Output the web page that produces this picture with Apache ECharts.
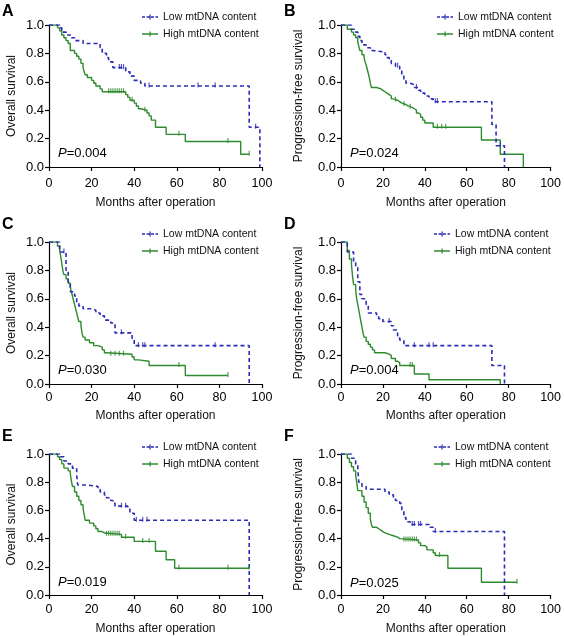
<!DOCTYPE html>
<html><head><meta charset="utf-8">
<script src="https://cdn.jsdelivr.net/npm/echarts@6/dist/echarts.min.js"></script>
<style>html,body{margin:0;padding:0;background:#fff}#c{width:564px;height:636px}</style>
</head><body><div id="c"></div>
<script>
// ---- Data (time in months, survival proportion) ----
const panelLetters = ['A','B','C','D','E','F'];
const yTitles = ['Overall survival','Progression-free survival','Overall survival','Progression-free survival','Overall survival','Progression-free survival'];
const pValues = ['0.004','0.024','0.030','0.004','0.019','0.025'];
const xTicks = [0,20,40,60,80,100];
const yTicks = [0,0.2,0.4,0.6,0.8,1.0];
const seriesNames = ['Low mtDNA content','High mtDNA content'];

const lowA = [[0,1],[5,0.98],[6,0.95],[8,0.93],[10,0.91],[12,0.89],[16,0.87],[24,0.84],[25,0.80],[27,0.77],[28,0.74],[30,0.70],[36,0.67],[38,0.64],[40,0.61],[43,0.59],[45,0.57],[94,0.28],[99,0]];
const highA = [[0,1],[4,0.98],[5,0.96],[6,0.93],[7,0.91],[8,0.89],[9,0.87],[10,0.82],[12,0.80],[13,0.78],[14,0.76],[15,0.73],[16,0.70],[16.5,0.67],[17,0.65],[18,0.63],[20,0.61],[21,0.59],[22,0.57],[24,0.55],[25,0.53],[36,0.51],[37,0.49],[38,0.47],[40,0.45],[41,0.43],[42,0.41],[43,0.40],[46,0.38],[47,0.36],[48,0.33],[50,0.28],[55,0.23],[64,0.18],[90,0.09],[94,0.09]];
const censLowA = [33,34,35,47,70,78,97];
const censHighA = [28,29,30,31,32,33,34,35,39,45,61,84,94];

const lowB = [[0,1],[5,0.97],[7,0.95],[8,0.92],[9,0.89],[10,0.86],[12,0.84],[14,0.82],[15,0.81],[21,0.79],[22,0.77],[23,0.75],[24,0.73],[26,0.71],[28,0.69],[29,0.65],[30,0.62],[31,0.59],[33,0.58],[35,0.56],[37,0.54],[38,0.52],[40,0.50],[42,0.48],[44,0.46],[72,0.30],[74,0.15],[78,0]];
const highB = [[0,1],[3,0.97],[5,0.95],[6,0.93],[7,0.91],[8,0.88],[8.5,0.85],[9,0.82],[10,0.79],[11,0.77],[11.5,0.74],[12,0.72],[12.5,0.69],[13,0.66],[13.5,0.63],[14,0.59],[14.5,0.56],[17,0.55],[19,0.54],[20,0.53],[21,0.52],[22,0.51],[23,0.50],[24,0.48],[25,0.47],[27,0.46],[28,0.45],[29,0.44],[31,0.43],[32,0.42],[34,0.41],[35,0.40],[36,0.38],[37,0.37],[38,0.35],[39,0.33],[40,0.31],[44,0.28],[67,0.19],[76,0.09],[87,0]];
const censLowB = [27,36,45,46,76];
const censHighB = [26,30,33,46,48,50];

const lowC = [[0,1],[5,0.93],[8,0.80],[9,0.72],[10,0.65],[12,0.62],[13,0.58],[14,0.55],[16,0.53],[20,0.52],[22,0.50],[24,0.48],[26,0.45],[29,0.43],[31,0.36],[39,0.32],[40,0.27],[94,0]];
const highC = [[0,1],[4,0.97],[5,0.94],[5.5,0.90],[6,0.85],[6.5,0.80],[7,0.77],[8,0.74],[9,0.71],[10,0.68],[10.5,0.65],[11,0.62],[11.5,0.59],[12,0.56],[12.5,0.53],[13,0.50],[13.5,0.47],[14,0.44],[15,0.41],[15.5,0.36],[16,0.33],[17,0.31],[19,0.29],[21,0.27],[23,0.26],[25,0.24],[26,0.22],[27,0.21],[39,0.19],[40,0.17],[42,0.16],[47,0.13],[64,0.06],[84,0.06]];
const censLowC = [7,34,42,44,45,78];
const censHighC = [29,31,33,35,61,84];

const lowD = [[0,1],[3,0.93],[6,0.86],[7,0.82],[8,0.72],[9,0.63],[10,0.60],[12,0.56],[13,0.50],[17,0.48],[18,0.46],[20,0.44],[24,0.41],[25,0.38],[27,0.34],[28,0.31],[30,0.27],[72,0.13],[78,0]];
const highD = [[0,1],[3,0.94],[4,0.88],[5,0.84],[5.5,0.76],[6,0.70],[7,0.66],[7.5,0.60],[8,0.56],[8.5,0.52],[9,0.48],[9.5,0.44],[10,0.40],[10.5,0.36],[11,0.33],[12,0.30],[13,0.28],[14,0.26],[15,0.24],[16,0.22],[21,0.21],[23,0.20],[24,0.18],[26,0.16],[27,0.15],[28,0.13],[35,0.07],[42,0.03],[76,0]];
const censLowD = [23,35,42,44];
const censHighD = [33,34];

const lowE = [[0,1],[5,0.98],[7,0.95],[9,0.93],[11,0.90],[13,0.85],[13.5,0.78],[18,0.77],[23,0.75],[24,0.73],[26,0.71],[27,0.69],[29,0.67],[30,0.65],[31,0.63],[37,0.61],[38,0.58],[40,0.53],[94,0]];
const highE = [[0,1],[4,0.98],[5,0.96],[6,0.93],[7,0.90],[9,0.88],[10,0.86],[10.5,0.81],[11,0.77],[12,0.73],[13,0.70],[14,0.67],[15,0.64],[16,0.61],[16.5,0.57],[17,0.53],[19,0.51],[21,0.49],[22,0.47],[23,0.45],[25,0.44],[26,0.43],[34,0.41],[40,0.38],[50,0.31],[55,0.25],[59,0.19],[94,0.19]];
const censLowE = [34,36,41,44,46];
const censHighE = [27,28,29,30,31,32,33,36,44,47,61,84,94];

const lowF = [[0,1],[5,0.97],[7,0.93],[8,0.90],[8.5,0.80],[10,0.77],[12,0.75],[21,0.73],[23,0.71],[25,0.69],[26,0.67],[28,0.65],[29,0.60],[30,0.55],[31,0.52],[33,0.50],[42,0.48],[44,0.45],[78,0]];
const highF = [[0,1],[3,0.97],[4,0.94],[5,0.91],[6,0.88],[7,0.85],[7.5,0.80],[8,0.74],[10,0.70],[11,0.66],[12,0.62],[13,0.58],[14,0.54],[14.5,0.50],[15,0.48],[17,0.47],[18,0.46],[19,0.45],[20,0.44],[21,0.43],[23,0.42],[25,0.41],[27,0.40],[28,0.39],[37,0.37],[38,0.35],[40,0.34],[41,0.32],[44,0.30],[45,0.28],[51,0.19],[67,0.09],[84,0.09]];
const censLowF = [34,35,37,38,45];
const censHighF = [30,31,32,33,34,35,36,47,84];

const lows = [lowA,lowB,lowC,lowD,lowE,lowF];
const highs = [highA,highB,highC,highD,highE,highF];
const censLows = [censLowA,censLowB,censLowC,censLowD,censLowE,censLowF];
const censHighs = [censHighA,censHighB,censHighC,censHighD,censHighE,censHighF];

// ---- Layout ----
const FONT = 'Liberation Sans, Arial, sans-serif';
const BLUE = '#2c2cb8';
const GREEN = '#2e8b2e';
const grids = [
  {left:49, top:25, width:213, height:142},
  {left:341, top:25, width:213, height:142},
  {left:49, top:242, width:213, height:142},
  {left:341, top:242, width:213, height:142},
  {left:49, top:454, width:213, height:142},
  {left:341, top:454, width:213, height:143}
];
const legendPos = [
  {left:142, top:10}, {left:437, top:10},
  {left:142, top:227}, {left:434, top:227},
  {left:142, top:440}, {left:434, top:440}
];
const letterPos = [[2,4],[284,4],[2,217],[284,217],[2,429],[284,429]];
const yNameGap = [31, 36, 31, 36, 31, 36];
const xLabelMargin = [10, 10, 7, 7, 8, 8];
const xNameGap = [30, 30, 26, 26, 28, 28];

const ICON_LOW = 'path://M0,1.8h3v1.4h-3z M4.5,1.8h3v1.4h-3z M9,1.8h3v1.4h-3z M13.5,1.8h2.5v1.4h-2.5z M7.5,0h1.2v5h-1.2z';
const ICON_HIGH = 'path://M0,1.8h16v1.4h-16z M7.5,0h1.2v5h-1.2z';

function stepVal(curve, t) {
  let v = curve[0][1];
  for (const p of curve) { if (p[0] <= t) v = p[1]; }
  return v;
}

const option = {
  animation:false,
  backgroundColor:'#fff',
  textStyle:{fontFamily:FONT},
  grid: grids,
  xAxis: grids.map((g,i)=>({
    gridIndex:i, type:'value', min:0, max:100, interval:20,
    name:'Months after operation', nameLocation:'middle', nameGap:xNameGap[i],
    nameTextStyle:{fontSize:12, color:'#111', fontFamily:FONT},
    axisLine:{show:true, onZero:false, lineStyle:{color:'#000', width:1.2}},
    axisTick:{show:true, length:4, lineStyle:{color:'#000', width:1.2}},
    axisLabel:{fontSize:12.5, color:'#000', margin:xLabelMargin[i], fontFamily:FONT},
    splitLine:{show:false}
  })),
  yAxis: grids.map((g,i)=>({
    gridIndex:i, type:'value', min:0, max:1, interval:0.2,
    name:yTitles[i], nameLocation:'middle', nameGap:yNameGap[i],
    nameTextStyle:{fontSize:12, color:'#111', fontFamily:FONT},
    axisLine:{show:true, onZero:false, lineStyle:{color:'#000', width:1.2}},
    axisTick:{show:true, length:4, lineStyle:{color:'#000', width:1.2}},
    axisLabel:{fontSize:13, color:'#000', margin:5, fontFamily:FONT, formatter:v=>v.toFixed(1)},
    splitLine:{show:false}
  })),
  legend: legendPos.map((p,i)=>({
    left:p.left, top:p.top, orient:'vertical', itemWidth:16, itemHeight:5, itemGap:3,
    padding:0,
    data: [{name:seriesNames[0], icon:ICON_LOW}, {name:seriesNames[1], icon:ICON_HIGH}],
    textStyle:{fontSize:10.5, lineHeight:14, color:'#111', fontFamily:FONT},
    selectedMode:false
  })),
  title: grids.map((g,i)=>({
    text: panelLetters[i], padding:0,
    left: letterPos[i][0], top: letterPos[i][1],
    textStyle:{fontSize:16, fontWeight:'bold', color:'#000', fontFamily:FONT}
  })).concat(grids.map((g,i)=>({
    text: '{p|P}{n|=' + pValues[i] + '}', padding:0,
    left: g.left + 9,
    top: g.top + g.height - 20,
    textStyle:{fontWeight:'normal', rich:{
      p:{fontSize:13, fontStyle:'italic', fontWeight:'normal', color:'#000', fontFamily:FONT},
      n:{fontSize:13, fontWeight:'normal', color:'#000', fontFamily:FONT}
    }}
  }))),
  series: []
};

for (let i=0;i<6;i++) {
  option.series.push({
    name:seriesNames[0], type:'line', step:'end', xAxisIndex:i, yAxisIndex:i,
    data:lows[i], showSymbol:false, symbol:'none', z:3,
    lineStyle:{color:BLUE, width:1.6, type:[4,3]}, itemStyle:{color:BLUE}
  });
  option.series.push({
    name:seriesNames[1], type:'line', step:'end', xAxisIndex:i, yAxisIndex:i,
    data:highs[i], showSymbol:false, symbol:'none', z:2,
    lineStyle:{color:GREEN, width:1.4}, itemStyle:{color:GREEN}
  });
  option.series.push({
    name:'censor-low-'+i, type:'scatter', xAxisIndex:i, yAxisIndex:i,
    data:censLows[i].map(t=>[t, stepVal(lows[i], t)]),
    symbol:'rect', symbolSize:[1.2,5], symbolOffset:[0,-1], itemStyle:{color:BLUE}, z:4
  });
  option.series.push({
    name:'censor-high-'+i, type:'scatter', xAxisIndex:i, yAxisIndex:i,
    data:censHighs[i].map(t=>[t, stepVal(highs[i], t)]),
    symbol:'rect', symbolSize:[1.2,5], symbolOffset:[0,-1], itemStyle:{color:GREEN}, z:4
  });
}

const chart = echarts.init(document.getElementById('c'), null, {renderer:'canvas'});
chart.setOption(option);
</script>
</body></html>
